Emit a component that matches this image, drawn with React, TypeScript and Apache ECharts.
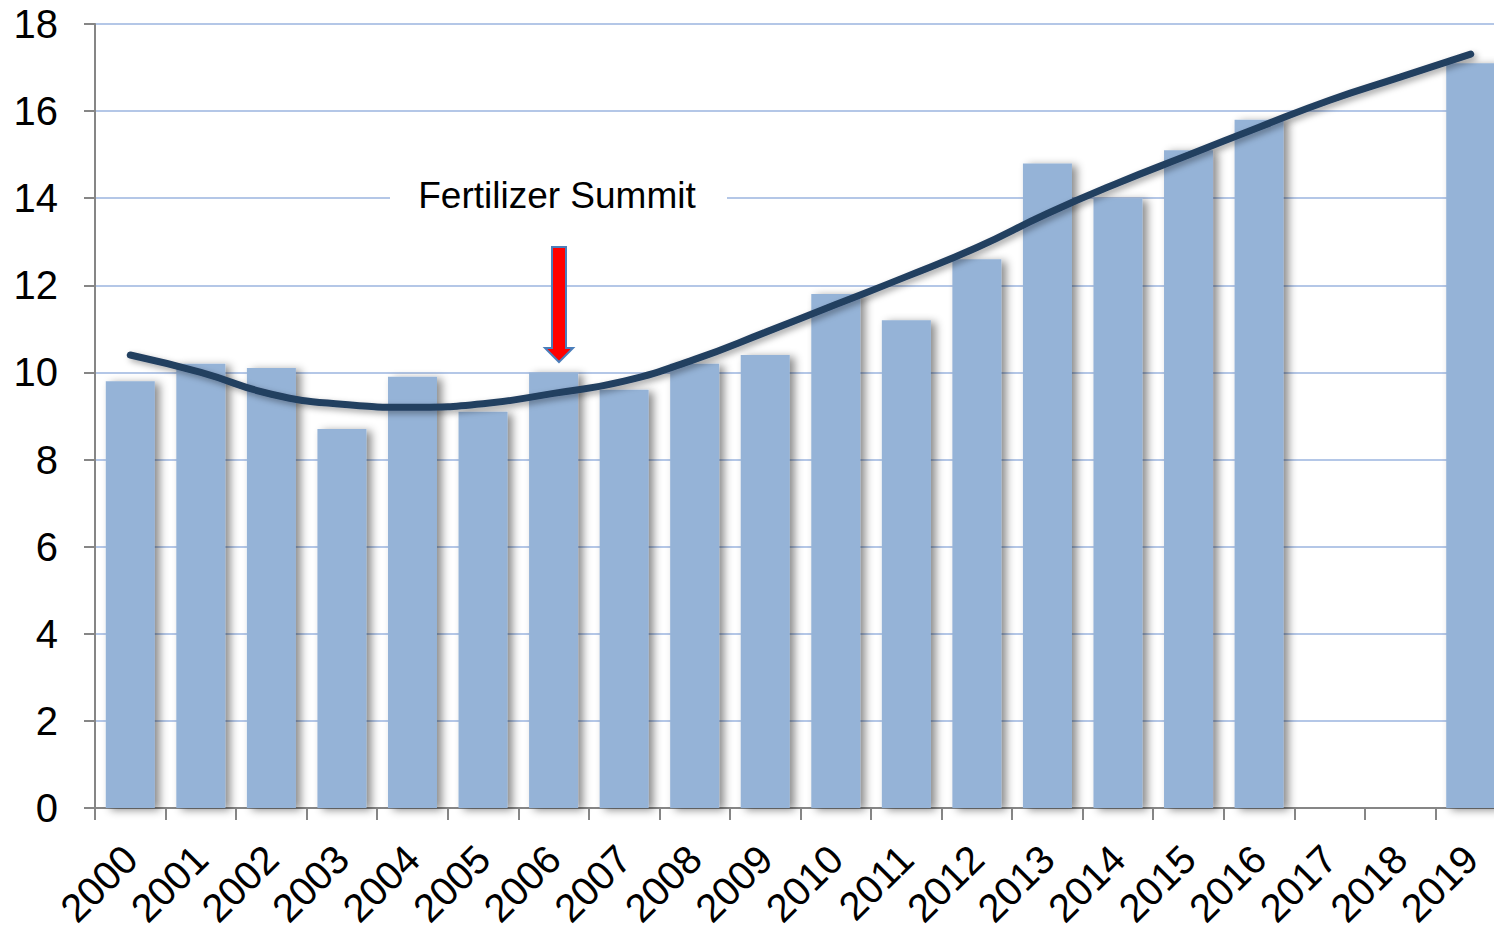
import React, { useEffect, useRef } from "react";
import * as echarts from "echarts";

const years = ["2000","2001","2002","2003","2004","2005","2006","2007","2008","2009","2010","2011","2012","2013","2014","2015","2016","2017","2018","2019"];
const barValues: (number | null)[] = [9.8,10.2,10.1,8.7,9.9,9.1,10.0,9.6,10.2,10.4,11.8,11.2,12.6,14.8,14.0,15.1,15.8,null,null,17.1];
const trendValues = [10.4,10.0,9.5,9.27,9.2,9.28,9.52,9.8,10.3,10.92,11.56,12.2,12.87,13.65,14.35,14.99,15.63,16.25,16.78,17.31];
const annotationText = "Fertilizer Summit";

const FONT = "'Liberation Sans', Arial, sans-serif";

export default function App() {
  const ref = useRef<HTMLDivElement>(null);
  useEffect(() => {
    if (!ref.current) return;
    const chart = echarts.init(ref.current, null, { renderer: "svg" });
    chart.setOption({
      animation: false,
      backgroundColor: "#ffffff",
      grid: { left: 95, top: 24, bottom: 125, right: 0 },
      xAxis: {
        type: "category",
        data: years,
        boundaryGap: true,
        axisLine: { show: true, lineStyle: { color: "#868686", width: 2 } },
        axisTick: { show: true, length: 12, lineStyle: { color: "#868686", width: 2 } },
        axisLabel: { rotate: 45, fontSize: 40, color: "#000", fontFamily: FONT, margin: 44, interval: 0 },
        splitLine: { show: false },
      },
      yAxis: {
        type: "value",
        min: 0,
        max: 18,
        interval: 2,
        axisLine: { show: true, lineStyle: { color: "#868686", width: 2 } },
        axisTick: { show: true, length: 11, lineStyle: { color: "#868686", width: 2 } },
        axisLabel: { fontSize: 40, color: "#000", fontFamily: FONT, margin: 37 },
        splitLine: { show: true, lineStyle: { color: "#b4c7e7", width: 2 } },
      },
      series: [
        {
          type: "bar",
          data: barValues,
          barWidth: 49,
          itemStyle: {
            color: "#95b3d7",
            shadowColor: "rgba(0,0,0,0.45)",
            shadowBlur: 8,
            shadowOffsetX: 5,
            shadowOffsetY: 2,
          },
          z: 2,
        },
        {
          type: "line",
          data: trendValues,
          smooth: true,
          symbol: "none",
          lineStyle: {
            color: "#243f60",
            width: 7,
            cap: "round",
            shadowColor: "rgba(0,0,0,0.35)",
            shadowBlur: 6,
            shadowOffsetX: 3,
            shadowOffsetY: 3,
          },
          z: 3,
        },
      ],
      graphic: [
        {
          type: "rect",
          shape: { x: 390, y: 185, width: 337, height: 22 },
          style: { fill: "#ffffff" },
          z: 10,
        },
        {
          type: "text",
          x: 557,
          y: 195,
          style: {
            text: annotationText,
            fontSize: 37,
            fontFamily: FONT,
            fill: "#000",
            align: "center",
            verticalAlign: "middle",
          },
          z: 11,
        },
        {
          type: "polygon",
          shape: {
            points: [[552,247],[566,247],[566,348],[573,348],[559,362],[545,348],[552,348]],
          },
          style: { fill: "#ff0000", stroke: "#4a7ebb", lineWidth: 2 },
          z: 11,
        },
      ],
    });
    return () => chart.dispose();
  }, []);
  return (
    <div style={{ position: "absolute", left: 0, top: 0, width: 1494, height: 933, overflow: "hidden" }}>
      <div ref={ref} style={{ width: 1506, height: 933 }} />
    </div>
  );
}
